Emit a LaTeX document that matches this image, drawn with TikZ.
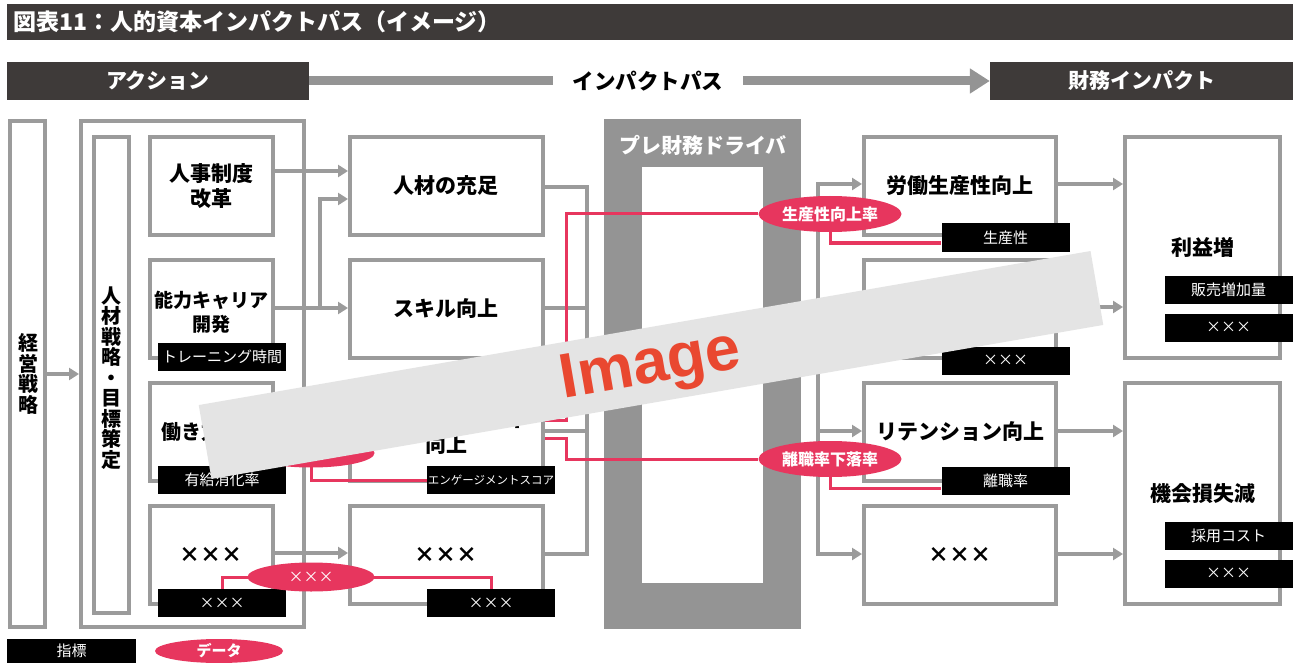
\documentclass[tikz,border=0pt]{standalone}
\usepackage{fontspec}
\setmainfont{Noto Sans CJK JP}
\newfontfamily\latf{Liberation Sans}
\usetikzlibrary{arrows.meta,shapes.geometric}
\definecolor{hdr}{RGB}{62,58,57}
\definecolor{bord}{RGB}{155,155,155}
\definecolor{drv}{RGB}{148,148,148}
\definecolor{pk}{RGB}{231,54,94}
\definecolor{bandc}{RGB}{228,228,228}
\definecolor{imgred}{RGB}{233,72,48}
\newcommand{\xxx}{\makebox[1em]{×}\makebox[1em]{×}\makebox[1em]{×}}
\pgfdeclarelayer{front}
\pgfdeclarelayer{top}
\pgfsetlayers{main,front,top}
\begin{document}
\begin{tikzpicture}[x=1pt,y=-1pt,
  every node/.style={inner sep=0pt},
  hdrbox/.style={fill=hdr, text=white, minimum height=38pt, font=\bfseries\fontsize{21}{21}\selectfont},
  box/.style={draw=bord, line width=4pt, fill=white, align=center, font=\bfseries\fontsize{21}{25}\selectfont},
  vtxt/.style={align=center, font=\bfseries\fontsize{20}{20.5}\selectfont},
  lbl/.style={fill=black, text=white, minimum width=128pt, minimum height=28pt, font=\fontsize{15}{15}\selectfont},
  dat/.style={ellipse, fill=pk, text=white, font=\bfseries\fontsize{16}{16}\selectfont},
  conn/.style={draw=bord, line width=3.5pt},
  arr/.style={conn, -{Triangle[length=10pt,width=12pt]}},
  pl/.style={draw=pk, line width=3pt},
  c1/.style={box, minimum width=123.5pt, minimum height=98pt},
  c2/.style={box, minimum width=192.5pt, minimum height=98pt},
  c3/.style={box, minimum width=192pt, minimum height=98pt},
  c4/.style={box, minimum width=155pt, minimum height=221pt},
]
\useasboundingbox (0,0) rectangle (1293,663);
\fill[white] (0,0) rectangle (1293,663);

% title bar
\node[fill=hdr, minimum width=1286pt, minimum height=36pt, anchor=north west] (tbar) at (7,4) {};
\node[anchor=west, text=white, font=\bfseries\fontsize{23}{23}\selectfont] (ttl) at (13,22) {図表11：人的資本インパクトパス（イメージ）};

% header row
\node[hdrbox, minimum width=302pt] (hA) at (158,81) {アクション};
\node[hdrbox, minimum width=303pt] (hF) at (1141.5,81) {財務インパクト};
\node[font=\bfseries\fontsize{21.5}{21.5}\selectfont, inner xsep=20pt] (hM) at (648,81) {インパクトパス};
\draw[draw=drv, line width=9pt] (hA.east) -- (hM.west);
\draw[draw=drv, line width=9pt, -{Triangle[length=20pt,width=24pt]}] (hM.east) -- (hF.west);

% left structure
\node[box, minimum width=35pt, minimum height=506pt] (kei) at (27.5,374) {};
\node[vtxt] (keit) at (28,374) {経\\営\\戦\\略};
\node[box, minimum width=223pt, minimum height=505pt] (grp) at (192.5,374) {};
\node[box, minimum width=35pt, minimum height=476pt] (jin) at (111.5,375) {};
\node[vtxt] (jint) at (111,378) {人\\材\\戦\\略\\・\\目\\標\\策\\定};
\draw[arr] (kei.east) -- (grp.west);

% column 1
\node[c1] (c1r1) at (211.25,186) {人事制度\\改革};
\node[c1] (c1r2) at (211.25,309) {};
\node[align=center, font=\bfseries\fontsize{19}{24}\selectfont] (c1r2t) at (211.25,312) {能力キャリア\\開発};
\node[c1, font=\bfseries\fontsize{20}{24}\selectfont] (c1r3) at (211.25,432) {働き方改革};
\node[c1] (c1r4) at (211.25,555) {\xxx};

% column 2
\node[c2] (c2r1) at (446.25,186) {人材の充足};
\node[c2] (c2r2) at (446.25,309) {スキル向上};
\node[c2] (c2r3) at (446.25,432) {エンゲージメント\\向上};
\node[c2] (c2r4) at (446.25,555) {\xxx};

% pre-financial driver
\node[fill=drv, minimum width=197pt, minimum height=510pt] (drv) at (702.5,374) {};
\node[fill=white, minimum width=121pt, minimum height=416pt] (drvin) at (702.5,375) {};
\node[text=white, font=\bfseries\fontsize{21}{21}\selectfont] (drvt) at (703,145) {プレ財務ドライバ};

% column 3
\node[c3] (c3r1) at (960,186) {労働生産性向上};
\node[c3] (c3r2) at (960,309) {};
\node[c3] (c3r3) at (960,432) {リテンション向上};
\node[c3] (c3r4) at (960,555) {\xxx};

% column 4
\node[c4] (c4a) at (1202.5,247.5) {利益増};
\node[c4] (c4b) at (1202.5,493.5) {機会損失減};

% connectors col1 -> col2
\draw[arr] (c1r1.east |- 0,171) -- (c2r1.west |- 0,171);
\draw[arr] (c1r2.east |- 0,308) -- (c2r2.west |- 0,308);
\coordinate (br) at (320,308);
\draw[arr] (br) |- (c2r1.west |- 0,199);
\draw[arr] (c1r3.east) -- (c2r3.west);
\draw[arr] (c1r4.east |- 0,553) -- (c2r4.west |- 0,553);

% col2 -> bus
\coordinate (busL) at (587,0);
\draw[conn] (c2r1.east |- 0,187) -| (busL |- 0,554) -- (c2r4.east |- 0,554);
\draw[conn] (c2r2.east |- 0,308) -- (busL |- 0,308);
\draw[conn] (c2r3.east |- 0,431) -- (busL |- 0,431);

% bus -> col3
\coordinate (busR) at (818,0);
\draw[arr] (busR |- 0,554) |- (c3r1.west |- 0,184);
\draw[arr] (busR |- 0,307) -- (c3r2.west |- 0,307);
\draw[arr] (busR |- 0,431) -- (c3r3.west |- 0,431);
\draw[arr, line cap=rect] (busR |- 0,554) -- (c3r4.west |- 0,554);

% col3 -> col4
\draw[arr] (c3r1.east |- 0,184) -- (c4a.west |- 0,184);
\draw[arr] (c3r2.east |- 0,307) -- (c4a.west |- 0,307);
\draw[arr] (c3r3.east |- 0,431) -- (c4b.west |- 0,431);
\draw[arr] (c3r4.east |- 0,554) -- (c4b.west |- 0,554);

% indicator labels and data ellipses (front layer)
\begin{pgfonlayer}{front}
\node[lbl] (l11) at (222,357) {トレーニング時間};
\node[lbl] (l13) at (222,480) {有給消化率};
\node[lbl] (l14) at (222,603) {\xxx};
\node[lbl, font=\fontsize{11.5}{11.5}\selectfont] (l23) at (491,480) {エンゲージメントスコア};
\node[lbl] (l24) at (491,603) {\xxx};
\node[lbl] (l31) at (1005.5,237.5) {生産性};
\node[lbl] (l32) at (1005.5,360.5) {\xxx};
\node[lbl] (l33) at (1005.5,480.5) {離職率};
\node[lbl] (l41) at (1228.5,289.5) {販売増加量};
\node[lbl] (l42) at (1228.5,327.5) {\xxx};
\node[lbl] (l43) at (1228.5,535.5) {採用コスト};
\node[lbl] (l44) at (1228.5,573.5) {\xxx};
\node[dat, minimum width=143pt, minimum height=36pt] (d1) at (830,214) {生産性向上率};
\node[dat, minimum width=143pt, minimum height=36pt] (d2) at (830,459) {離職率下落率};
\node[dat, minimum width=127pt, minimum height=29pt] (d3) at (311,453) {};
\node[dat, minimum width=127pt, minimum height=29pt, font=\fontsize{15}{15}\selectfont] (d4) at (311,577) {\xxx};
\end{pgfonlayer}

% pink data lines
\coordinate (pv) at (566,0);
\draw[pl] (d1.west) -| (pv |- 0,420) -- (c2r3.east |- 0,420);
\draw[pl] (d2.west) -| (pv |- 0,438) -- (c2r3.east |- 0,438);
\draw[pl] (d1.center) |- (l31.west |- 0,243);
\draw[pl] (d2.center) |- (l33.west |- 0,488);
\draw[pl] (d3.center) |- (l23.west);
\draw[pl] (d3.center) -| (l13.north);
\draw[pl] (d4.center) -| (l14.north);
\draw[pl] (d4.center) -| (l24.north);

% legend
\node[lbl, minimum width=129pt, minimum height=24pt, anchor=north west] (ileg) at (7,639) {指標};
\node[dat, minimum width=128pt, minimum height=24pt, font=\bfseries\fontsize{15}{15}\selectfont] (dleg) at (219,651) {データ};

% overlay band
\begin{pgfonlayer}{top}
\node[fill=bandc, minimum width=905pt, minimum height=75pt, rotate=9.8] (band) at (651,365) {};
\node[rotate=9.8, text=imgred, font=\latf\bfseries\fontsize{63}{63}\selectfont] (imgt) at (651,368) {Image};
\end{pgfonlayer}
\end{tikzpicture}
\end{document}
